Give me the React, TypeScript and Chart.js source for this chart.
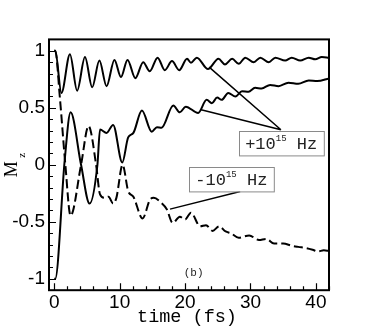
import React, { useEffect, useRef } from "react";
import { Chart, registerables } from "chart.js";

Chart.register(...registerables);

// ---- data (time in fs, Mz) ----
const upperT = [0, 0.15, 1.1, 2.4, 3.5, 4.7, 5.8, 6.9, 8.0, 9.2, 10.2, 11.2, 12.4, 13.6, 14.6, 15.8, 16.9, 18.0, 19.1, 20.3, 20.9, 21.8, 23.5, 25.1, 26.1, 27.2, 28.2, 29.2, 30.5, 31.5, 32.8, 33.8, 35.3, 36.3, 37.6, 38.9, 39.9, 40.9, 42];
const upperV = [1, 1, 0.63, 0.97, 0.65, 0.945, 0.68, 0.915, 0.69, 0.92, 0.77, 0.92, 0.76, 0.9, 0.82, 0.94, 0.83, 0.91, 0.83, 0.93, 0.895, 0.94, 0.84, 0.93, 0.88, 0.93, 0.886, 0.94, 0.9, 0.94, 0.9, 0.94, 0.915, 0.94, 0.915, 0.94, 0.925, 0.945, 0.94];

const lowerT = [0, 0.15, 1.6, 2.5, 4.1, 5.4, 6.6, 7.0, 8.0, 9.0, 10.4, 11.3, 12.1, 13.4, 14.9, 15.7, 16.4, 18.2, 19.2, 20.1, 22.0, 23.3, 24.1, 24.9, 25.6, 26.6, 27.7, 28.7, 29.7, 30.7, 31.7, 33.0, 34.3, 35.8, 37.3, 38.9, 40.2, 42];
const lowerV = [-1, -1, 0.04, 0.46, 0.0, -0.34, 0.0, 0.31, 0.28, 0.35, 0.02, 0.24, 0.28, 0.476, 0.29, 0.33, 0.325, 0.52, 0.46, 0.51, 0.455, 0.57, 0.54, 0.59, 0.57, 0.63, 0.6, 0.646, 0.64, 0.675, 0.67, 0.7, 0.69, 0.72, 0.71, 0.74, 0.734, 0.757];

const negT = [0, 0.15, 0.86, 1.7, 2.5, 4.1, 5.25, 6.4, 7.0, 7.7, 8.3, 9.0, 9.5, 10.45, 11.3, 12.1, 13.5, 14.7, 15.2, 16.3, 17.2, 18.1, 19.2, 20.0, 20.9, 22.3, 23.2, 24.2, 25.2, 26.2, 27.0, 28.2, 29.8, 31.3, 32.4, 33.6, 35.0, 36.3, 37.3, 38.5, 39.5, 40.3, 41.2, 42];
const negV = [1, 1, 0.59, 0.0, -0.447, 0.0, 0.34, 0.0, -0.26, -0.29, -0.28, -0.34, -0.29, 0.0, -0.23, -0.28, -0.47, -0.3, -0.29, -0.33, -0.39, -0.51, -0.455, -0.48, -0.42, -0.54, -0.53, -0.58, -0.54, -0.585, -0.6, -0.64, -0.62, -0.66, -0.65, -0.69, -0.69, -0.71, -0.72, -0.73, -0.745, -0.76, -0.75, -0.755];

const xTickValues = [0, 10, 20, 30, 40];
const yTickValues = [-1, -0.5, 0, 0.5, 1];
const yTickLabels = ["-1", "-0.5", "0", "0.5", "1"];
const xTitle = "time (fs)";
const yTitleMain = "M";
const yTitleSub = "z";
const panelLabel = "(b)";

// annotations (data coordinates)
const noteMain = ["+10", "-10"];
const noteSup = "15";
const noteUnit = " Hz";
const noteBoxT = [28.22, 20.61];
const noteBoxV = [0.296, -0.02];
const noteAnchorT = [34.65, 28.42];
const noteAnchorV = [0.307, -0.234];
const notePointsT = [[23.68, 22.45], [17.7]];
const notePointsV = [[0.857, 0.482], [-0.389]];

const toPts = (t: number[], v: number[]) => t.map((tt, i) => ({ x: tt, y: v[i] }));

const decoPlugin = {
  id: "deco",
  afterDatasetsDraw(chart: any) {
    const { ctx, chartArea: a, scales } = chart;
    const xs = scales.x;
    const ys = scales.y;
    ctx.save();
    // inward ticks
    ctx.strokeStyle = "#000";
    ctx.lineWidth = 1.2;
    ctx.beginPath();
    for (let t = 0; t <= 42.001; t += 2) {
      const px = Math.round(xs.getPixelForValue(t)) + 0.5;
      const len = Math.abs(t % 10) < 1e-6 ? 7 : 4;
      ctx.moveTo(px, a.bottom);
      ctx.lineTo(px, a.bottom - len);
    }
    for (let k = -11; k <= 11; k++) {
      const v = k / 10;
      const py = Math.round(ys.getPixelForValue(v)) + 0.5;
      const len = k % 5 === 0 ? 7 : 4;
      ctx.moveTo(a.left, py);
      ctx.lineTo(a.left + len, py);
    }
    ctx.stroke();
    // frame
    ctx.lineWidth = 2;
    ctx.strokeRect(a.left, a.top, a.right - a.left, a.bottom - a.top);

    // leader lines
    ctx.lineWidth = 1.5;
    ctx.beginPath();
    for (let i = 0; i < noteMain.length; i++) {
      const ax = xs.getPixelForValue(noteAnchorT[i]);
      const ay = ys.getPixelForValue(noteAnchorV[i]);
      for (let j = 0; j < notePointsT[i].length; j++) {
        ctx.moveTo(ax, ay);
        ctx.lineTo(xs.getPixelForValue(notePointsT[i][j]), ys.getPixelForValue(notePointsV[i][j]));
      }
    }
    ctx.stroke();

    // boxes
    const mainFont = "17px 'Liberation Mono', monospace";
    const supFont = "9px 'Liberation Mono', monospace";
    for (let i = 0; i < noteMain.length; i++) {
      const bx = xs.getPixelForValue(noteBoxT[i]);
      const by = ys.getPixelForValue(noteBoxV[i]);
      ctx.font = mainFont;
      const w1 = ctx.measureText(noteMain[i]).width;
      const w3 = ctx.measureText(noteUnit).width;
      ctx.font = supFont;
      const w2 = ctx.measureText(noteSup).width;
      const bw = 6.3 + w1 + w2 + w3 + 6.5;
      const bh = 24.4;
      ctx.fillStyle = "#fff";
      ctx.fillRect(bx, by, bw, bh);
      ctx.strokeStyle = "#8a8a8a";
      ctx.lineWidth = 1;
      ctx.strokeRect(Math.round(bx) + 0.5, Math.round(by) + 0.5, bw, bh);
      ctx.fillStyle = "#222";
      ctx.textBaseline = "alphabetic";
      ctx.textAlign = "left";
      ctx.font = mainFont;
      ctx.fillText(noteMain[i], bx + 6.3, by + 17.8);
      ctx.font = supFont;
      ctx.fillText(noteSup, bx + 6.3 + w1, by + 9.8);
      ctx.font = mainFont;
      ctx.fillText(noteUnit, bx + 6.3 + w1 + w2, by + 17.8);
    }

    // panel label
    ctx.fillStyle = "#222";
    ctx.font = "11px 'Liberation Mono', monospace";
    ctx.textAlign = "center";
    ctx.textBaseline = "middle";
    ctx.fillText(panelLabel, xs.getPixelForValue(21.3), ys.getPixelForValue(-0.95));

    // axis titles
    ctx.fillStyle = "#000";
    ctx.font = "18.5px 'Liberation Mono', monospace";
    ctx.textAlign = "center";
    ctx.textBaseline = "alphabetic";
    ctx.fillText(xTitle, (a.left + a.right) / 2 - 2, 322);

    ctx.translate(12, (a.top + a.bottom) / 2);
    ctx.rotate(-Math.PI / 2);
    ctx.textAlign = "center";
    ctx.textBaseline = "middle";
    ctx.font = "18px 'Liberation Serif', serif";
    ctx.fillText(yTitleMain, -4.5, 0);
    ctx.font = "11px 'Liberation Serif', serif";
    ctx.fillText(yTitleSub, 9.5, 10);
    ctx.restore();
  },
};

export default function App() {
  const ref = useRef<HTMLCanvasElement | null>(null);
  useEffect(() => {
    if (!ref.current) return;
    const common = {
      borderColor: "#000",
      borderWidth: 2,
      pointRadius: 0,
      fill: false,
      cubicInterpolationMode: "monotone" as const,
    };
    const chart = new Chart(ref.current, {
      type: "line",
      data: {
        datasets: [
          { ...common, label: "upper", data: toPts(upperT, upperV) },
          { ...common, label: "lower", data: toPts(lowerT, lowerV) },
          { ...common, label: "neg", data: toPts(negT, negV), borderDash: [9, 4] },
        ],
      },
      options: {
        animation: false,
        responsive: true,
        maintainAspectRatio: false,
        layout: { padding: { top: 39.4, right: 45, left: 0, bottom: 0 } },
        plugins: { legend: { display: false }, tooltip: { enabled: false } },
        scales: {
          x: {
            type: "linear",
            min: -0.8,
            max: 42,
            grid: { display: false, drawTicks: false },
            border: { display: false },
            afterBuildTicks: (s: any) => {
              s.ticks = xTickValues.map((v) => ({ value: v }));
            },
            afterFit: (s: any) => {
              s.height = 36.8;
            },
            ticks: {
              color: "#000",
              padding: 1,
              maxRotation: 0,
              font: { family: "'Liberation Sans', Arial, sans-serif", size: 19 },
              callback: (v: any) => String(v),
            },
          },
          y: {
            type: "linear",
            min: -1.1,
            max: 1.1,
            grid: { display: false, drawTicks: false },
            border: { display: false },
            afterBuildTicks: (s: any) => {
              s.ticks = yTickValues.map((v) => ({ value: v }));
            },
            afterFit: (s: any) => {
              s.width = 49;
            },
            ticks: {
              color: "#000",
              padding: 4,
              font: { family: "'Liberation Sans', Arial, sans-serif", size: 19 },
              callback: (v: any) => {
                const i = yTickValues.indexOf(Number(v));
                return i >= 0 ? yTickLabels[i] : "";
              },
            },
          },
        },
      },
      plugins: [decoPlugin],
    });
    return () => chart.destroy();
  }, []);
  return (
    <div style={{ position: "fixed", left: 0, top: 0, width: 374, height: 327, background: "#fff" }}>
      <canvas ref={ref} />
    </div>
  );
}
